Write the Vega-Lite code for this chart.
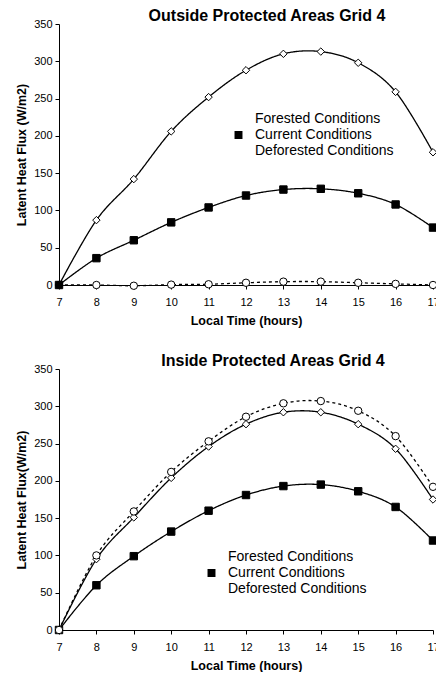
{
  "$schema": "https://vega.github.io/schema/vega-lite/v6.json",
  "background": "white",
  "padding": {"left": 15, "top": 8, "right": 0, "bottom": 0},
  "spacing": 26,
  "datasets": {
    "outside": [
      {"hour": 7, "series": "Forested Conditions", "flux": 0},
      {"hour": 8, "series": "Forested Conditions", "flux": 87},
      {"hour": 9, "series": "Forested Conditions", "flux": 142},
      {"hour": 10, "series": "Forested Conditions", "flux": 206},
      {"hour": 11, "series": "Forested Conditions", "flux": 252},
      {"hour": 12, "series": "Forested Conditions", "flux": 288},
      {"hour": 13, "series": "Forested Conditions", "flux": 310},
      {"hour": 14, "series": "Forested Conditions", "flux": 313},
      {"hour": 15, "series": "Forested Conditions", "flux": 298},
      {"hour": 16, "series": "Forested Conditions", "flux": 259},
      {"hour": 17, "series": "Forested Conditions", "flux": 178},
      {"hour": 7, "series": "Deforested Conditions", "flux": 0},
      {"hour": 8, "series": "Deforested Conditions", "flux": 0},
      {"hour": 9, "series": "Deforested Conditions", "flux": -1},
      {"hour": 10, "series": "Deforested Conditions", "flux": 0.5},
      {"hour": 11, "series": "Deforested Conditions", "flux": 1},
      {"hour": 12, "series": "Deforested Conditions", "flux": 3},
      {"hour": 13, "series": "Deforested Conditions", "flux": 4.5},
      {"hour": 14, "series": "Deforested Conditions", "flux": 4.5},
      {"hour": 15, "series": "Deforested Conditions", "flux": 3},
      {"hour": 16, "series": "Deforested Conditions", "flux": 1.5},
      {"hour": 17, "series": "Deforested Conditions", "flux": 0},
      {"hour": 7, "series": "Current Conditions", "flux": 0},
      {"hour": 8, "series": "Current Conditions", "flux": 36},
      {"hour": 9, "series": "Current Conditions", "flux": 60},
      {"hour": 10, "series": "Current Conditions", "flux": 84},
      {"hour": 11, "series": "Current Conditions", "flux": 104},
      {"hour": 12, "series": "Current Conditions", "flux": 120},
      {"hour": 13, "series": "Current Conditions", "flux": 128},
      {"hour": 14, "series": "Current Conditions", "flux": 129},
      {"hour": 15, "series": "Current Conditions", "flux": 123},
      {"hour": 16, "series": "Current Conditions", "flux": 108},
      {"hour": 17, "series": "Current Conditions", "flux": 77}
    ],
    "inside": [
      {"hour": 7, "series": "Forested Conditions", "flux": 0},
      {"hour": 8, "series": "Forested Conditions", "flux": 95},
      {"hour": 9, "series": "Forested Conditions", "flux": 151},
      {"hour": 10, "series": "Forested Conditions", "flux": 204},
      {"hour": 11, "series": "Forested Conditions", "flux": 246},
      {"hour": 12, "series": "Forested Conditions", "flux": 276},
      {"hour": 13, "series": "Forested Conditions", "flux": 292},
      {"hour": 14, "series": "Forested Conditions", "flux": 292},
      {"hour": 15, "series": "Forested Conditions", "flux": 276},
      {"hour": 16, "series": "Forested Conditions", "flux": 243},
      {"hour": 17, "series": "Forested Conditions", "flux": 175},
      {"hour": 7, "series": "Current Conditions", "flux": 0},
      {"hour": 8, "series": "Current Conditions", "flux": 60},
      {"hour": 9, "series": "Current Conditions", "flux": 99},
      {"hour": 10, "series": "Current Conditions", "flux": 132},
      {"hour": 11, "series": "Current Conditions", "flux": 160},
      {"hour": 12, "series": "Current Conditions", "flux": 181},
      {"hour": 13, "series": "Current Conditions", "flux": 193},
      {"hour": 14, "series": "Current Conditions", "flux": 195},
      {"hour": 15, "series": "Current Conditions", "flux": 186},
      {"hour": 16, "series": "Current Conditions", "flux": 165},
      {"hour": 17, "series": "Current Conditions", "flux": 120},
      {"hour": 7, "series": "Deforested Conditions", "flux": 0},
      {"hour": 8, "series": "Deforested Conditions", "flux": 100},
      {"hour": 9, "series": "Deforested Conditions", "flux": 159},
      {"hour": 10, "series": "Deforested Conditions", "flux": 212},
      {"hour": 11, "series": "Deforested Conditions", "flux": 253},
      {"hour": 12, "series": "Deforested Conditions", "flux": 286},
      {"hour": 13, "series": "Deforested Conditions", "flux": 304},
      {"hour": 14, "series": "Deforested Conditions", "flux": 307},
      {"hour": 15, "series": "Deforested Conditions", "flux": 294},
      {"hour": 16, "series": "Deforested Conditions", "flux": 260},
      {"hour": 17, "series": "Deforested Conditions", "flux": 192}
    ]
  },
  "config": {
    "font": "Liberation Sans",
    "view": {"stroke": null},
    "axis": {
      "grid": false,
      "domainColor": "black",
      "tickColor": "black",
      "labelColor": "black",
      "titleColor": "black",
      "labelFont": "Liberation Sans",
      "titleFont": "Liberation Sans",
      "labelFontSize": 11,
      "titleFontSize": 12.5,
      "titleFontWeight": "bold",
      "tickSize": 4,
      "domainWidth": 1,
      "tickWidth": 1
    },
    "legend": {
      "title": null,
      "padding": 0,
      "symbolSize": 225,
      "symbolOpacity": 1,
      "symbolStrokeColor": "black",
      "symbolStrokeWidth": 1.2,
      "labelFontSize": 14,
      "labelFont": "Liberation Sans",
      "labelColor": "black",
      "labelOffset": 8,
      "rowPadding": 0
    },
    "title": {
      "font": "Liberation Sans",
      "fontSize": 16,
      "fontWeight": "bold",
      "color": "black",
      "anchor": "middle",
      "frame": "group"
    }
  },
  "resolve": {
    "scale": {"shape": "independent", "fill": "independent", "strokeDash": "independent"},
    "legend": {"shape": "independent", "fill": "independent", "strokeDash": "independent"}
  },
  "vconcat": [
    {
      "width": 374,
      "height": 261,
      "title": {"text": "Outside Protected Areas Grid 4", "dx": 21, "offset": -19, "baseline": "alphabetic"},
      "data": {"name": "outside"},
      "encoding": {
        "x": {"field": "hour", "type": "quantitative", "scale": {"domain": [7, 17], "nice": false},
          "axis": {"values": [7, 8, 9, 10, 11, 12, 13, 14, 15, 16, 17], "title": "Local Time (hours)", "labelPadding": 7, "titlePadding": 7, "labelFlush": false, "labelOverlap": false}},
        "y": {"field": "flux", "type": "quantitative", "scale": {"domain": [0, 350], "nice": false},
          "axis": {"values": [0, 50, 100, 150, 200, 250, 300, 350], "title": "Latent Heat Flux (W/m2)", "labelPadding": 3, "titlePadding": 5}}
      },
      "resolve": {
        "scale": {"shape": "independent", "fill": "independent"},
        "legend": {"shape": "independent", "fill": "independent", "strokeDash": "independent"}
      },
      "layer": [
        {
          "mark": {"type": "line", "interpolate": "cardinal", "color": "black", "strokeWidth": 1.3},
          "encoding": {
            "detail": {"field": "series"},
            "strokeDash": {"field": "series", "type": "nominal",
              "scale": {"domain": ["Forested Conditions", "Current Conditions", "Deforested Conditions"], "range": [[1, 0], [1, 0], [3, 3]]},
              "legend": null}
          }
        },
        {
          "mark": {"type": "point", "filled": true, "stroke": "black", "strokeWidth": 1, "size": 55, "opacity": 1},
          "encoding": {
            "shape": {"field": "series", "type": "nominal",
              "scale": {"domain": ["Forested Conditions", "Current Conditions", "Deforested Conditions"], "range": ["diamond", "square", "circle"]},
              "legend": null},
            "fill": {"field": "series", "type": "nominal",
              "scale": {"domain": ["Forested Conditions", "Current Conditions", "Deforested Conditions"], "range": ["white", "black", "white"]},
              "legend": null}
          }
        },
        {
          "transform": [{"filter": "false"}],
          "mark": {"type": "point", "filled": true, "stroke": "black", "strokeWidth": 1.2, "opacity": 1},
          "encoding": {
            "shape": {"field": "series", "type": "nominal",
              "scale": {"domain": ["Forested Conditions", "Current Conditions", "Deforested Conditions"],
                "range": [
                  "M-2,0H-0.47M0.47,0H2M-0.47,0L0,-0.47L0.47,0L0,0.47Z",
                  "M-2,0H2M-0.53,-0.53H0.53V0.53H-0.53Z",
                  "M-2,0H-1.53M-1.07,0H-0.73M0.73,0H1.07M1.53,0H1.87M-0.47,0A0.47,0.47,0,1,1,0.47,0A0.47,0.47,0,1,1,-0.47,0Z"
                ]},
              "legend": {"orient": "none", "legendX": 171, "legendY": 86.5}},
            "fill": {"field": "series", "type": "nominal",
              "scale": {"domain": ["Forested Conditions", "Current Conditions", "Deforested Conditions"], "range": ["white", "black", "white"]},
              "legend": {"orient": "none", "legendX": 171, "legendY": 86.5}}
          }
        }
      ]
    },
    {
      "width": 374,
      "height": 261,
      "title": {"text": "Inside Protected Areas Grid 4", "dx": 27, "offset": -19, "baseline": "alphabetic"},
      "data": {"name": "inside"},
      "encoding": {
        "x": {"field": "hour", "type": "quantitative", "scale": {"domain": [7, 17], "nice": false},
          "axis": {"values": [7, 8, 9, 10, 11, 12, 13, 14, 15, 16, 17], "title": "Local Time (hours)", "labelPadding": 7, "titlePadding": 7, "labelFlush": false, "labelOverlap": false}},
        "y": {"field": "flux", "type": "quantitative", "scale": {"domain": [0, 350], "nice": false},
          "axis": {"values": [0, 50, 100, 150, 200, 250, 300, 350], "title": "Latent Heat Flux(W/m2)", "labelPadding": 3, "titlePadding": 5}}
      },
      "resolve": {
        "scale": {"shape": "independent", "fill": "independent"},
        "legend": {"shape": "independent", "fill": "independent", "strokeDash": "independent"}
      },
      "layer": [
        {
          "mark": {"type": "line", "interpolate": "cardinal", "color": "black", "strokeWidth": 1.3},
          "encoding": {
            "detail": {"field": "series"},
            "strokeDash": {"field": "series", "type": "nominal",
              "scale": {"domain": ["Forested Conditions", "Current Conditions", "Deforested Conditions"], "range": [[1, 0], [1, 0], [3, 3]]},
              "legend": null}
          }
        },
        {
          "mark": {"type": "point", "filled": true, "stroke": "black", "strokeWidth": 1, "size": 55, "opacity": 1},
          "encoding": {
            "shape": {"field": "series", "type": "nominal",
              "scale": {"domain": ["Forested Conditions", "Current Conditions", "Deforested Conditions"], "range": ["diamond", "square", "circle"]},
              "legend": null},
            "fill": {"field": "series", "type": "nominal",
              "scale": {"domain": ["Forested Conditions", "Current Conditions", "Deforested Conditions"], "range": ["white", "black", "white"]},
              "legend": null}
          }
        },
        {
          "transform": [{"filter": "false"}],
          "mark": {"type": "point", "filled": true, "stroke": "black", "strokeWidth": 1.2, "opacity": 1},
          "encoding": {
            "shape": {"field": "series", "type": "nominal",
              "scale": {"domain": ["Forested Conditions", "Current Conditions", "Deforested Conditions"],
                "range": [
                  "M-2,0H-0.47M0.47,0H2M-0.47,0L0,-0.47L0.47,0L0,0.47Z",
                  "M-2,0H2M-0.53,-0.53H0.53V0.53H-0.53Z",
                  "M-2,0H-1.53M-1.07,0H-0.73M0.73,0H1.07M1.53,0H1.87M-0.47,0A0.47,0.47,0,1,1,0.47,0A0.47,0.47,0,1,1,-0.47,0Z"
                ]},
              "legend": {"orient": "none", "legendX": 144, "legendY": 179.5}},
            "fill": {"field": "series", "type": "nominal",
              "scale": {"domain": ["Forested Conditions", "Current Conditions", "Deforested Conditions"], "range": ["white", "black", "white"]},
              "legend": {"orient": "none", "legendX": 144, "legendY": 179.5}}
          }
        }
      ]
    }
  ]
}
